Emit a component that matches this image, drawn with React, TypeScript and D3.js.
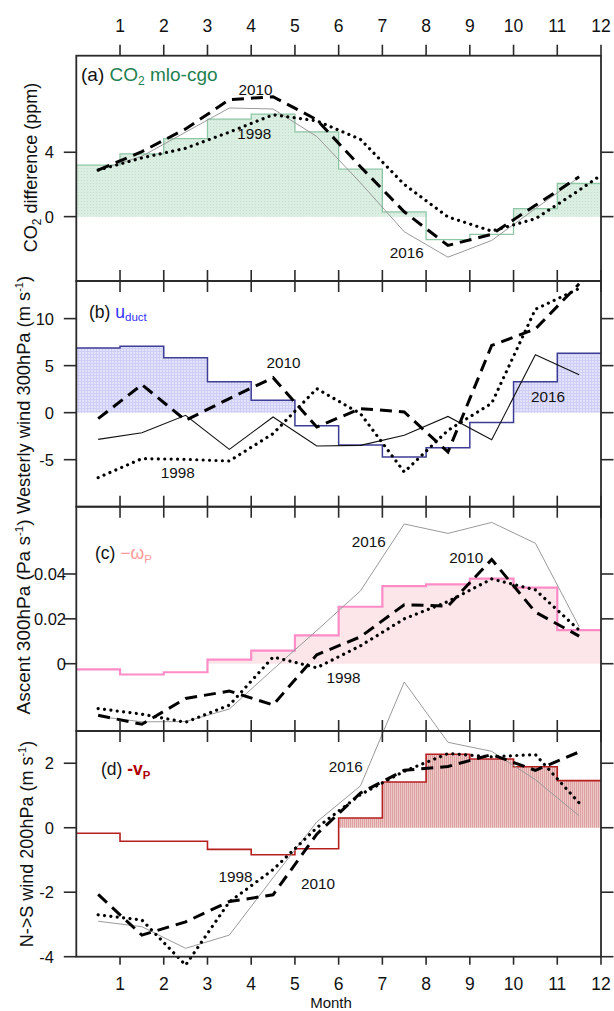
import React from 'react';
import * as d3 from 'd3';

// ---------- data ----------
const MONTH_TICKS = [1, 2, 3, 4, 5, 6, 7, 8, 9, 10, 11, 12];
const MID_MONTHS = [0.5, 1.5, 2.5, 3.5, 4.5, 5.5, 6.5, 7.5, 8.5, 9.5, 10.5, 11.5];
const MID_MONTHS_TO_END = [...MID_MONTHS, 12];

// (a) CO2 difference mlo - cgo (ppm)
const co2Clim = [3.2, 3.9, 4.85, 6.06, 6.37, 5.27, 2.95, 0.3, -1.43, -1.1, 0.5, 2.06];
const co2Y2016 = [2.89, 3.75, 5.25, 6.75, 6.69, 4.98, 2.1, -0.94, -2.52, -1.48, 0.5, 2.45];
const co2Y2010 = [2.89, 4.04, 5.45, 7.27, 7.45, 6.02, 3.1, 0.3, -1.79, -1.1, 0.7, 2.48];
const co2Y1998 = [2.89, 3.65, 4.25, 5.25, 6.33, 5.95, 4.8, 2.0, -0.02, -0.9, -0.13, 1.64, 2.58];

// (b) westerly wind 300 hPa, u_duct (m/s)
const uClim = [6.88, 7.06, 5.85, 3.3, 1.31, -1.38, -3.44, -4.72, -3.72, -1.05, 3.3, 6.33];
const uY2016 = [-2.84, -2.13, -0.28, -3.9, -0.46, -3.55, -3.48, -2.41, -0.4, -2.87, 6.15, 4.02];
const uY2010 = [-0.64, 2.98, -0.82, 1.5, 3.72, -1.52, 0.43, 0.07, -4.18, 7.15, 8.9, 13.7];
const uY1998 = [-6.91, -4.89, -4.96, -5.14, -2.23, 2.55, -0.11, -6.31, -1.88, 1.0, 11.0, 13.2];

// (c) ascent 300 hPa, -omega_P (Pa/s)
const wClim = [-0.0025, -0.0048, -0.0038, 0.0018, 0.0058, 0.0126, 0.0254, 0.0346, 0.0354, 0.0379, 0.0339, 0.015];
const wY2016 = [-0.0235, -0.0259, -0.0258, -0.0202, -0.0025, 0.0148, 0.0325, 0.0623, 0.0581, 0.063, 0.0537, 0.0165];
const wY2010 = [-0.023, -0.027, -0.0155, -0.0122, -0.0184, 0.004, 0.012, 0.0263, 0.0257, 0.0465, 0.023, 0.0123];
const wY1998 = [-0.02, -0.0225, -0.0261, -0.0185, 0.003, -0.0018, 0.008, 0.02, 0.0277, 0.0378, 0.0329, 0.015];

// (d) N->S wind 200 hPa, -v_P (m/s)
const vClim = [-0.17, -0.42, -0.42, -0.67, -0.84, -0.65, 0.3, 1.42, 2.28, 2.13, 1.89, 1.46];
const vY2016 = [-2.9, -3.07, -3.74, -3.33, -1.55, 0.18, 1.3, 4.52, 2.65, 2.37, 1.49, 0.37];
const vY2010 = [-2.07, -3.33, -2.92, -2.29, -2.08, -0.2, 1.08, 1.78, 1.9, 2.27, 1.78, 2.35];
const vY1998 = [-2.7, -2.86, -4.26, -2.3, -1.3, 0.0, 1.03, 1.75, 2.3, 2.2, 2.27, 0.77];

const tickA = [0, 4];
const tickB = [-5, 0, 5, 10];
const tickC = [0, 0.02, 0.04];
const tickD = [-4, -2, 0, 2];

// ---------- layout ----------
const W = 614;
const H = 1011;
const LEFT = 76.3;
const RIGHT = 601;
const FONT = "'Liberation Sans', Arial, Helvetica, sans-serif";

const x = d3.scaleLinear().domain([0, 12]).range([LEFT, RIGHT]);

type YearLabel = { text: string; m: number; v: number };
type Panel = {
  id: string;
  domain: [number, number];
  top: number;
  bottom: number;
  ticks: number[];
  fmt: (v: number) => string;
  labelRight: number;
  clim: number[];
  y2016: number[];
  y2010: number[];
  y1998: number[];
  x1998: number[];
  stepColor: string;
  stepWidth: number;
  fill: string;
  thinColor: string;
  thinWidth: number;
  yearLabels: YearLabel[];
};

const panels: Panel[] = [
  {
    id: 'a', domain: [-4, 10], top: 55.7, bottom: 281, ticks: tickA, fmt: (v) => String(v), labelRight: 54,
    clim: co2Clim, y2016: co2Y2016, y2010: co2Y2010, y1998: co2Y1998, x1998: MID_MONTHS_TO_END,
    stepColor: '#8ec6a6', stepWidth: 1.3, fill: 'url(#patA)', thinColor: '#9a9a9a', thinWidth: 1,
    yearLabels: [
      { text: '2010', m: 4.1, v: 7.56 },
      { text: '1998', m: 4.07, v: 4.82 },
      { text: '2016', m: 7.56, v: -2.57 },
    ],
  },
  {
    id: 'b', domain: [-10, 14], top: 281, bottom: 506.7, ticks: tickB, fmt: (v) => String(v), labelRight: 54,
    clim: uClim, y2016: uY2016, y2010: uY2010, y1998: uY1998, x1998: MID_MONTHS,
    stepColor: '#3d3d95', stepWidth: 1.5, fill: 'url(#patB)', thinColor: '#111', thinWidth: 1.1,
    yearLabels: [
      { text: '2010', m: 4.74, v: 4.72 },
      { text: '1998', m: 2.32, v: -6.98 },
      { text: '2016', m: 10.79, v: 1.17 },
    ],
  },
  {
    id: 'c', domain: [-0.03, 0.07], top: 506.7, bottom: 731, ticks: tickC, fmt: (v) => (v === 0 ? '0' : v.toFixed(2)), labelRight: 66,
    clim: wClim, y2016: wY2016, y2010: wY2010, y1998: wY1998, x1998: MID_MONTHS,
    stepColor: '#ff8cc6', stepWidth: 2.2, fill: '#fde6ea', thinColor: '#9a9a9a', thinWidth: 1,
    yearLabels: [
      { text: '2016', m: 6.69, v: 0.0522 },
      { text: '2010', m: 8.92, v: 0.045 },
      { text: '1998', m: 6.11, v: -0.0086 },
    ],
  },
  {
    id: 'd', domain: [-4, 3], top: 731, bottom: 956.7, ticks: tickD, fmt: (v) => String(v), labelRight: 54,
    clim: vClim, y2016: vY2016, y2010: vY2010, y1998: vY1998, x1998: MID_MONTHS,
    stepColor: '#b51f1f', stepWidth: 1.6, fill: 'url(#patD)', thinColor: '#9a9a9a', thinWidth: 1,
    yearLabels: [
      { text: '2016', m: 6.16, v: 1.74 },
      { text: '1998', m: 3.64, v: -1.67 },
      { text: '2010', m: 5.53, v: -1.91 },
    ],
  },
];

function PanelMarks({ p }: { p: Panel }) {
  const y = d3.scaleLinear().domain(p.domain).range([p.bottom, p.top]);
  const stepPts: [number, number][] = p.clim.map((v, i) => [i, v] as [number, number]);
  stepPts.push([12, p.clim[p.clim.length - 1]]);

  const area = d3
    .area<[number, number]>()
    .curve(d3.curveStepAfter)
    .x((d) => x(d[0]))
    .y0(y(0))
    .y1((d) => y(Math.max(0, d[1])));
  const step = d3
    .line<[number, number]>()
    .curve(d3.curveStepAfter)
    .x((d) => x(d[0]))
    .y((d) => y(d[1]));
  const line = d3
    .line<[number, number]>()
    .x((d) => x(d[0]))
    .y((d) => y(d[1]));

  const pts = (xs: number[], vs: number[]) => vs.map((v, i) => [xs[i], v] as [number, number]);

  return (
    <g>
      <path d={area(stepPts) || ''} fill={p.fill} stroke="none" />
      <path d={step(stepPts) || ''} fill="none" stroke={p.stepColor} strokeWidth={p.stepWidth} />
      <path d={line(pts(MID_MONTHS, p.y2016)) || ''} fill="none" stroke={p.thinColor} strokeWidth={p.thinWidth} />
      <path
        d={line(pts(MID_MONTHS, p.y2010)) || ''}
        fill="none"
        stroke="#000"
        strokeWidth={3}
        strokeDasharray="12 7"
      />
      <path
        d={line(pts(p.x1998, p.y1998)) || ''}
        fill="none"
        stroke="#000"
        strokeWidth={3.2}
        strokeLinecap="round"
        strokeDasharray="0.01 6.4"
      />
      {p.yearLabels.map((l) => (
        <text key={l.text} x={x(l.m)} y={y(l.v)} textAnchor="middle" fontSize={15.3} fill="#111">
          {l.text}
        </text>
      ))}
    </g>
  );
}

function PanelAxes({ p }: { p: Panel }) {
  const y = d3.scaleLinear().domain(p.domain).range([p.bottom, p.top]);
  return (
    <g>
      <rect x={LEFT} y={p.top} width={RIGHT - LEFT} height={p.bottom - p.top} fill="none" stroke="#2a2a2a" strokeWidth={1.8} />
      {p.ticks.map((t) => (
        <g key={t}>
          <line x1={LEFT - 12.5} x2={LEFT} y1={y(t)} y2={y(t)} stroke="#2a2a2a" strokeWidth={1.6} />
          <line x1={RIGHT} x2={RIGHT + 12.5} y1={y(t)} y2={y(t)} stroke="#2a2a2a" strokeWidth={1.6} />
          <text x={p.labelRight} y={y(t) + 6} textAnchor="end" fontSize={16.5} fill="#111">
            {p.fmt(t)}
          </text>
        </g>
      ))}
    </g>
  );
}

export default function App() {
  const boundaries = [panels[0].bottom, panels[1].bottom, panels[2].bottom];
  const topY = panels[0].top;
  const bottomY = panels[3].bottom;
  return (
    <svg
      width={W}
      height={H}
      viewBox={`0 0 ${W} ${H}`}
      style={{ position: 'absolute', left: 0, top: 0, background: '#fff' }}
      fontFamily={FONT}
    >
      <defs>
        <pattern id="patA" width="3" height="3" patternUnits="userSpaceOnUse">
          <rect width="3" height="3" fill="#dbeee2" />
          <rect width="1" height="1" fill="#c3e0cd" />
        </pattern>
        <pattern id="patB" width="3" height="3" patternUnits="userSpaceOnUse">
          <rect width="3" height="3" fill="#e2e2fb" />
          <rect width="3" height="1" fill="#cfcff5" />
          <rect width="1" height="3" fill="#cfcff5" />
        </pattern>
        <pattern id="patD" width="2" height="2" patternUnits="userSpaceOnUse">
          <rect width="2" height="2" fill="#eec7c7" />
          <rect width="1" height="2" fill="#dca1a1" />
        </pattern>
      </defs>
      <rect x={0} y={0} width={W} height={H} fill="#fff" />

      {panels.map((p) => (
        <PanelMarks key={p.id} p={p} />
      ))}
      {panels.map((p) => (
        <PanelAxes key={p.id} p={p} />
      ))}

      {/* month ticks: top, internal boundaries, bottom */}
      {MONTH_TICKS.map((m) => (
        <g key={m}>
          <line x1={x(m)} x2={x(m)} y1={topY - 11} y2={topY} stroke="#2a2a2a" strokeWidth={1.6} />
          {boundaries.map((b) => (
            <line key={b} x1={x(m)} x2={x(m)} y1={b - 11} y2={b + 11} stroke="#2a2a2a" strokeWidth={1.6} />
          ))}
          <line x1={x(m)} x2={x(m)} y1={bottomY} y2={bottomY + 8} stroke="#2a2a2a" strokeWidth={1.6} />
          <text x={x(m)} y={32} textAnchor="middle" fontSize={17.5} fill="#111">
            {m}
          </text>
          <text x={x(m)} y={990} textAnchor="middle" fontSize={17.5} fill="#111">
            {m}
          </text>
        </g>
      ))}
      <text x={331} y={1008} textAnchor="middle" fontSize={15} fill="#111">
        Month
      </text>

      {/* panel titles */}
      <text x={81} y={81} fontSize={19} fill="#111">
        (a) <tspan fill="#1f8050">CO</tspan>
        <tspan fill="#1f8050" fontSize={12} dy={4}>2</tspan>
        <tspan fill="#1f8050" dy={-4}> mlo-cgo</tspan>
      </text>
      <text x={89} y={318} fontSize={17.5} fill="#111">
        (b) <tspan fill="#2f2fff">u</tspan>
        <tspan fill="#2f2fff" fontSize={11.5} dy={3}>duct</tspan>
      </text>
      <text x={95} y={559} fontSize={17.5} fill="#111">
        (c) <tspan fill="#ff9a9a">−ω</tspan>
        <tspan fill="#ff9a9a" fontSize={11.5} dy={4}>P</tspan>
      </text>
      <text x={101} y={775} fontSize={17.5} fill="#111">
        (d) <tspan fill="#b00000" fontWeight="bold">-v</tspan>
        <tspan fill="#b00000" fontWeight="bold" fontSize={11.5} dy={4}>P</tspan>
      </text>

      {/* y-axis titles */}
      <text transform="translate(37,167.5) rotate(-90)" textAnchor="middle" fontSize={18} fill="#111">
        CO<tspan fontSize={12} dy={4}>2</tspan>
        <tspan dy={-4}> difference (ppm)</tspan>
      </text>
      <text transform="translate(29.5,395) rotate(-90)" textAnchor="middle" fontSize={18.3} fill="#111">
        Westerly wind 300hPa (m s<tspan fontSize={11} dy={-7}>-1</tspan>
        <tspan dy={7}>)</tspan>
      </text>
      <text transform="translate(29.5,617) rotate(-90)" textAnchor="middle" fontSize={19} fill="#111">
        Ascent 300hPa (Pa s<tspan fontSize={11.5} dy={-7}>-1</tspan>
        <tspan dy={7}>)</tspan>
      </text>
      <text transform="translate(33.3,844) rotate(-90)" textAnchor="middle" fontSize={18} fill="#111">
        N-&gt;S wind 200hPa (m s<tspan fontSize={11} dy={-7}>-1</tspan>
        <tspan dy={7}>)</tspan>
      </text>
    </svg>
  );
}
